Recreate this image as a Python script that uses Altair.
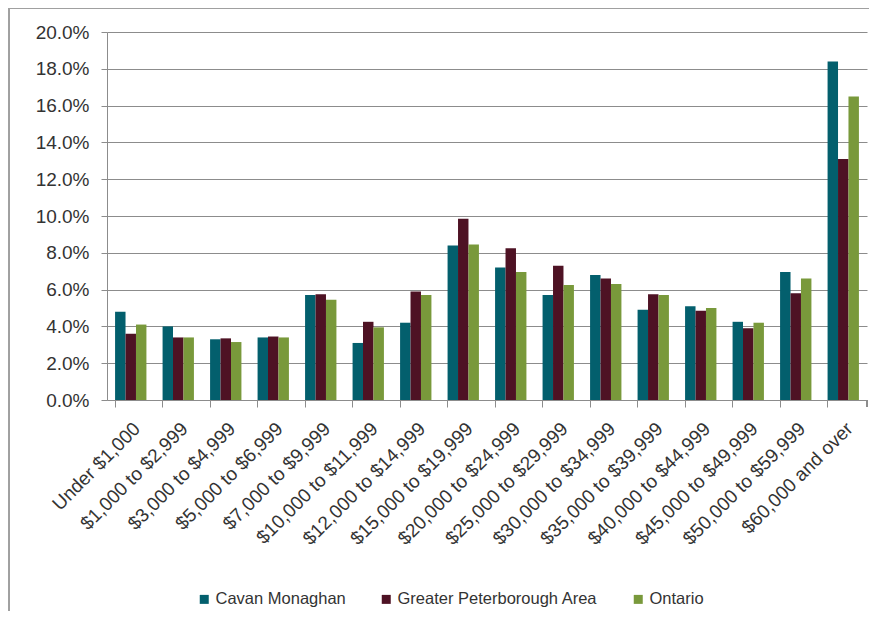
import altair as alt
import pandas as pd

categories = ["Under $1,000", "$1,000 to $2,999", "$3,000 to $4,999", "$5,000 to $6,999",
              "$7,000 to $9,999", "$10,000 to $11,999", "$12,000 to $14,999", "$15,000 to $19,999",
              "$20,000 to $24,999", "$25,000 to $29,999", "$30,000 to $34,999", "$35,000 to $39,999",
              "$40,000 to $44,999", "$45,000 to $49,999", "$50,000 to $59,999", "$60,000 and over"]
series = ["Cavan Monaghan", "Greater Peterborough Area", "Ontario"]
cavan = [4.8, 4.0, 3.3, 3.4, 5.7, 3.1, 4.2, 8.4, 7.2, 5.7, 6.8, 4.9, 5.1, 4.25, 6.95, 18.4]
peterborough = [3.6, 3.4, 3.35, 3.45, 5.75, 4.25, 5.9, 9.85, 8.25, 7.3, 6.6, 5.75, 4.85, 3.9, 5.8, 13.1]
ontario = [4.1, 3.4, 3.15, 3.4, 5.45, 3.95, 5.7, 8.45, 6.95, 6.25, 6.3, 5.7, 5.0, 4.2, 6.6, 16.5]
colors = ["#035F6D", "#4E1224", "#79993B"]

rows = []
for name, vals in zip(series, [cavan, peterborough, ontario]):
    for c, v in zip(categories, vals):
        rows.append({"category": c, "series": name, "value": v})
df = pd.DataFrame(rows)

W, H = 760, 368
font = "Liberation Sans"

bars = alt.Chart(df).mark_bar().encode(
    x=alt.X("category:N", sort=categories, title=None,
            scale=alt.Scale(paddingInner=0.34, paddingOuter=0.17),
            axis=alt.Axis(labelAngle=-45, labelAlign="right", labelBaseline="top",
                          bandPosition=0, tickSize=7, tickColor="#8c8c8c", domainColor="#8c8c8c",
                          labelFontSize=19, labelFont=font, labelColor="#333333",
                          labelPadding=12, grid=False, labelLimit=0)),
    xOffset=alt.XOffset("series:N", sort=series),
    y=alt.Y("value:Q", title=None,
            scale=alt.Scale(domain=[0, 20], nice=False),
            axis=alt.Axis(values=[0, 2, 4, 6, 8, 10, 12, 14, 16, 18, 20],
                          labelExpr="format(datum.value, '.1f') + '%'",
                          tickSize=6, tickColor="#8c8c8c", domainColor="#8c8c8c",
                          gridColor="#8c8c8c", gridWidth=1.2,
                          labelFontSize=19, labelFont=font, labelColor="#333333",
                          labelPadding=12)),
    color=alt.Color("series:N", sort=series,
                    scale=alt.Scale(domain=series, range=colors),
                    legend=alt.Legend(title=None, orient="none", direction="horizontal",
                                      legendX=89, legendY=559, symbolType="square",
                                      symbolSize=81, symbolStrokeWidth=0,
                                      labelFontSize=16.5, labelFont=font, labelColor="#333333",
                                      columnPadding=32, labelOffset=3, labelLimit=0)),
)

end_tick = alt.Chart(df).mark_rule(color="#8c8c8c").encode(
    x=alt.value(W), y=alt.value(H), y2=alt.value(H + 7)
)

frame = alt.Chart(df).mark_rect(fill=None, stroke="#a0a0a0", strokeWidth=1).encode(
    x=alt.value(-98), x2=alt.value(W + 40), y=alt.value(-24), y2=alt.value(H + 260)
)

chart = alt.layer(frame, bars, end_tick).properties(
    width=W, height=H,
    autosize=alt.AutoSizeParams(type="none"),
    padding={"left": 99, "top": 24, "right": 2, "bottom": 211},
).configure_view(stroke=None)

chart.save("out.html", embed_options={"renderer": "svg", "actions": False})
